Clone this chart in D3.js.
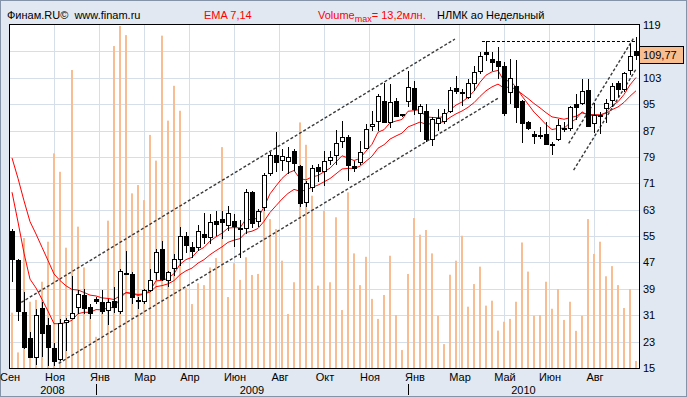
<!DOCTYPE html>
<html>
<head>
<meta charset="utf-8">
<script src="https://cdn.jsdelivr.net/npm/d3@7"></script>
<style>
body { margin: 0; background: #e1e8f1; }
svg { display: block; font-family: "Liberation Sans", Arial, sans-serif; }
</style>
</head>
<body>
<svg id="chart" width="687" height="397"></svg>
<script>
// weekly candles, NLMK, Sep 2008 .. Sep 2010
var openP  = [56.6,47.8,31.9,24.1,18.3,33.2,28.1,21.1,17.7,28.9,30.1,33.4,37.2,33.4,35.8,35.1,32.6,35.4,32.4,43.8,
              43.5,35.6,35.3,38.7,44,51,41.7,45.3,48,55,51.6,51.6,55.6,54.6,59.6,60.2,58.3,59.5,57.5,57.5,
              68.3,59.7,63.7,74.2,79.7,78.1,77.7,80.9,76.1,65.2,69.8,75.9,74.8,78.1,79.7,83.7,84.9,76.1,77.4,81.7,
              88.3,90,95.9,89.5,96.1,91.9,96.1,99.9,92.2,93,84.4,89.2,90,93,99.9,98.6,97.1,101.3,105.2,110.7,
              108.7,108,106.5,98.6,100.6,96,89.5,86,85.6,86.1,82.9,84.3,87.8,87.9,94.9,95.2,99.3,89.2,91.7,93.7,
              96.2,101.5,99.5,105.3,111];
var highP  = [57.1,48,38,25.8,32.9,34.9,30.2,22.5,29.9,30.2,43,38.5,39,34.4,36.6,38.8,35.9,39.5,45,50.6,
              44,36.6,39,45,51,53.6,44.5,49.6,57.9,56.1,53.1,58.4,61.9,61.7,62.7,62.7,64.2,61.7,59.9,69.3,
              68.6,63.2,74.2,80.4,86.5,81.4,81.9,81.4,76.4,71.8,76.4,76.9,80.9,80.9,87.2,90,85.7,77.9,83.7,89,
              92.8,98.1,101.3,101.1,96.9,92,105.2,101.9,95,95,91,93.5,93.5,100.1,103.6,99.6,102.6,106.7,110.7,114.2,
              110.7,112.2,107.7,108.7,108.4,96.3,90,87,88.1,89.7,83.6,90.6,89.7,94.4,98.1,102.5,102.5,95.2,92.7,96.7,
              101.3,102.1,104.8,113.2,115.3];
var lowP   = [41,29.4,20.8,18,16,18.3,15.7,15.7,17.2,20.3,30,31.4,31.4,29.9,34.4,31.4,27.9,31.6,31.5,43.4,
              34.4,32.9,34.4,38,41.7,41.3,39.5,43,46,50,48.5,50.6,52.6,52.6,55,54.1,56.6,51.8,48.5,55.6,
              57.5,57.9,62.7,73.3,74.3,74.6,73.8,74.8,63.7,63.7,68.3,71.3,70.3,76.4,76.4,81.7,71.8,74.3,76.4,81.4,
              87,87,89.2,87.8,91,91,94.2,91.8,86.5,83.4,82.4,87,89,92.2,98.1,94.5,96.6,99.1,104.1,108.2,
              105.2,102.6,91.5,95.1,89.2,83.1,87.2,83,84.5,82.6,79.6,83.9,86.6,86.9,90.2,94.7,88.2,86.3,86.1,89.2,
              94,97.3,98.8,103.8,108.5];
var closeP = [48.1,32.2,21.5,18.3,31.2,25.5,21.5,17,28.5,29.6,31.6,37.5,33.2,31.8,35.2,32.4,35.1,33.6,44.3,43.6,
              36.4,35.3,38.5,41.7,50.3,42,44,47.9,54.9,52.2,50.6,56.6,54.6,59.2,58.6,59.2,62,58.1,57.2,68.3,
              58.9,62.7,73.6,79.7,77.4,79.3,79.1,77.1,65,71,75.6,74.6,77.9,78.9,83.2,84.9,76.7,75.6,80.4,87.5,
              89,97.5,89.5,95.6,91.5,91.8,100.3,93.5,94.5,84.4,90.5,90.7,92.2,99.3,99.1,98.5,101.3,104.6,109.7,110.2,
              107.9,106.5,92.2,102.8,94.2,89.2,87.8,85.3,85.3,82.9,82.8,88.7,87.9,94,94.2,99.1,88.4,91.7,91.4,95.2,
              100.5,99.5,104.5,109.6,109.77];
// volume, mln shares
var volume = [2.13,0.6,5.0,2.55,2.62,3.32,4.86,8.26,7.55,4.63,11.47,5.44,3.87,2.13,1.2,2.55,5.67,12.39,13.16,12.81,
              6.72,7.04,6.46,8.97,7.98,12.79,9.52,10.86,9.9,3.07,2.46,3.26,3.19,3.87,4.23,8.5,2.73,4.03,3.39,4.26,
              3.58,3.62,6.12,5.73,5.35,4.13,2.08,3.3,9.45,8.59,6.63,3.17,6.05,3.3,5.8,2.23,6.76,4.41,3.19,4.28,
              2.66,1.89,2.81,4.32,2.04,0.69,3.62,5.77,5.13,5.31,4.41,2.01,0.92,3.59,4.13,5.09,2.36,3.23,3.9,2.4,
              2.59,1.44,1.78,1.89,2.55,4.83,3.71,2.01,2.04,3.32,2.28,3.04,1.85,2.55,1.43,2.01,5.73,4.39,4.86,3.53,
              3.92,3.19,2.31,3.04,0.27];

// EMA starting values carried over from before the window
var ema7Start = 68.3;
var ema14Start = 78.7;

var yTicks = [15, 23, 31, 39, 47, 55, 63, 71, 79, 87, 95, 103, 111, 119];
// 111 sits under the last-price box in the original, so it is not printed
var yLabelTicks = [15, 23, 31, 39, 47, 55, 63, 71, 79, 87, 95, 103, 119];
var monthLabels = ["Сен", "Ноя", "Янв", "Мар", "Апр", "Июн", "Авг", "Окт", "Ноя", "Янв", "Мар", "Май", "Июн", "Авг"];
var yearLabels = ["2008", "2009", "2010"];
var yearBreaks = [0, 14.5, 66.5, 105];

// hand drawn trend lines: [candle index, price]
var trendLines = [
    {pts: [[1.33, 34.1], [74.33, 114.75]], w: 1.4},
    {pts: [[8.28, 16.4], [81.6, 96.9]], w: 1.4},
    {pts: [[93.28, 83.1], [104.2, 115.3]], w: 1.4},
    {pts: [[94.1, 75.0], [104.5, 105.6]], w: 1.4}
];
var resistance = {from: 78.83, to: 104.5, price: 114.3};

var lastPrice = "109,77";

var svg = d3.select("#chart");
var W = 687, H = 397;
var pLeft = 9, pRight = 639, pTop = 24, pBottom = 368;

var x = d3.scaleLinear().domain([0, 105]).range([pLeft, pRight]);
var y = d3.scaleLinear().domain([15, 119]).range([pBottom, pTop + 1]);
var yv = d3.scaleLinear().domain([0, 13.2]).range([pBottom, pTop + 1]);

function cx(i) { return Math.round(x(i + 0.5)); }

// background
svg.append("rect").attr("x", 0.5).attr("y", 0.5).attr("width", W - 1).attr("height", H - 1)
    .attr("fill", "#e1e8f1").attr("stroke", "#8593a8");

svg.append("rect").attr("x", pLeft + 0.5).attr("y", pTop + 0.5)
    .attr("width", pRight - pLeft).attr("height", pBottom - pTop)
    .attr("fill", "#ffffff");

svg.append("defs").append("clipPath").attr("id", "plotClip")
    .append("rect").attr("x", pLeft + 1).attr("y", pTop + 1)
    .attr("width", pRight - pLeft - 1).attr("height", pBottom - pTop - 1);

var plot = svg.append("g").attr("clip-path", "url(#plotClip)");

// grid
plot.append("g").selectAll("line")
    .data(yTicks.slice(1, -1))
    .enter().append("line")
    .attr("x1", pLeft).attr("x2", pRight)
    .attr("y1", function(d) { return Math.round(y(d)) + 0.5; })
    .attr("y2", function(d) { return Math.round(y(d)) + 0.5; })
    .attr("stroke", "#d6deea");

plot.append("g").selectAll("line")
    .data(d3.range(1, 14))
    .enter().append("line")
    .attr("y1", pTop).attr("y2", pBottom)
    .attr("x1", function(d) { return Math.round(x(d * 7.5)) + 0.5; })
    .attr("x2", function(d) { return Math.round(x(d * 7.5)) + 0.5; })
    .attr("stroke", "#d6deea");

// volume
plot.append("g").selectAll("rect")
    .data(volume)
    .enter().append("rect")
    .attr("x", function(d, i) { return cx(i) - 1; })
    .attr("width", 2)
    .attr("y", function(d) { return yv(d); })
    .attr("height", function(d) { return pBottom - yv(d); })
    .attr("fill", "#f9bd93");

// EMA
function ema(vals, n, start) {
    var a = 2 / (n + 1), out = [start];
    for (var i = 1; i < vals.length; i++) {
        out.push(out[i - 1] + a * (vals[i] - out[i - 1]));
    }
    return out;
}
var ema7 = ema(closeP, 7, ema7Start);
var ema14 = ema(closeP, 14, ema14Start);

var line = d3.line()
    .x(function(d, i) { return x(i + 0.5); })
    .y(function(d) { return y(d); });

[ema7, ema14].forEach(function(s) {
    plot.append("path").datum(s)
        .attr("d", line)
        .attr("fill", "none")
        .attr("stroke", "#ff0000")
        .attr("stroke-width", 1);
});

// trend lines
plot.append("g").selectAll("line")
    .data(trendLines)
    .enter().append("line")
    .attr("x1", function(d) { return x(d.pts[0][0]); })
    .attr("y1", function(d) { return y(d.pts[0][1]); })
    .attr("x2", function(d) { return x(d.pts[1][0]); })
    .attr("y2", function(d) { return y(d.pts[1][1]); })
    .attr("stroke", "#3a3a3a")
    .attr("stroke-width", function(d) { return d.w; })
    .attr("stroke-dasharray", "3,2");

plot.append("line")
    .attr("x1", x(resistance.from)).attr("x2", x(resistance.to))
    .attr("y1", Math.round(y(resistance.price)) + 0.5)
    .attr("y2", Math.round(y(resistance.price)) + 0.5)
    .attr("stroke", "#000")
    .attr("stroke-dasharray", "3,2");

// candles
var candles = plot.append("g").selectAll("g")
    .data(closeP)
    .enter().append("g");

candles.append("line")
    .attr("x1", function(d, i) { return cx(i) + 0.5; })
    .attr("x2", function(d, i) { return cx(i) + 0.5; })
    .attr("y1", function(d, i) { return Math.round(y(highP[i])); })
    .attr("y2", function(d, i) { return Math.round(y(lowP[i])); })
    .attr("stroke", "#000");

candles.append("rect")
    .attr("x", function(d, i) { return cx(i) - 1.5; })
    .attr("width", 4)
    .attr("y", function(d, i) { return Math.round(y(Math.max(openP[i], d))) + 0.5; })
    .attr("height", function(d, i) {
        return Math.max(1, Math.round(y(Math.min(openP[i], d))) - Math.round(y(Math.max(openP[i], d))));
    })
    .attr("fill", function(d, i) { return d >= openP[i] ? "#fff" : "#000"; })
    .attr("stroke", "#000");

// frame
svg.append("rect").attr("x", pLeft + 0.5).attr("y", pTop + 0.5)
    .attr("width", pRight - pLeft).attr("height", pBottom - pTop)
    .attr("fill", "none").attr("stroke", "#000");

// y axis
var yAxis = d3.axisRight(y).tickValues(yLabelTicks).tickSize(0).tickPadding(4);
var ga = svg.append("g").attr("transform", "translate(" + pRight + ",0)").call(yAxis);
ga.select(".domain").remove();
ga.selectAll("text").attr("font-size", 11).attr("font-family", "Liberation Sans, Arial, sans-serif").attr("fill", "#000");

// last price box
var ly = Math.round(y(closeP[closeP.length - 1]));
svg.append("rect").attr("x", pRight + 0.5).attr("y", ly - 8.5).attr("width", 44).attr("height", 17)
    .attr("fill", "#f9be8f").attr("stroke", "#000");
svg.append("text").attr("x", pRight + 4).attr("y", ly + 4)
    .attr("font-size", 11).text(lastPrice);

// x axis labels
svg.append("g").selectAll("text")
    .data(monthLabels)
    .enter().append("text")
    .attr("x", function(d, i) { return x(i * 7.5) + 1; })
    .attr("y", 381)
    .attr("text-anchor", "middle")
    .attr("font-size", 11)
    .text(function(d) { return d; });

svg.append("g").selectAll("text")
    .data(yearLabels)
    .enter().append("text")
    .attr("x", function(d, i) { return x((yearBreaks[i] + yearBreaks[i + 1]) / 2); })
    .attr("y", 394)
    .attr("text-anchor", "middle")
    .attr("font-size", 11)
    .text(function(d) { return d; });

svg.append("g").selectAll("line")
    .data(yearBreaks.slice(1, -1))
    .enter().append("line")
    .attr("x1", function(d) { return Math.round(x(d)) + 0.5; })
    .attr("x2", function(d) { return Math.round(x(d)) + 0.5; })
    .attr("y1", 384).attr("y2", 395)
    .attr("stroke", "#000");

// header
var hdr = svg.append("text").attr("y", 19).attr("font-size", 11).attr("xml:space", "preserve");
hdr.append("tspan").attr("x", 7).attr("fill", "#000").text("Финам.RU©  www.finam.ru");
hdr.append("tspan").attr("x", 204).attr("fill", "#ff0000").text("EMA 7,14");
hdr.append("tspan").attr("x", 318).attr("fill", "#ff0000").text("Volume");
hdr.append("tspan").attr("fill", "#ff0000").attr("dy", 3).attr("font-size", 9).text("max");
hdr.append("tspan").attr("fill", "#ff0000").attr("dy", -3).text("= 13,2млн.");
hdr.append("tspan").attr("x", 437).attr("fill", "#000").text("НЛМК ао Недельный");
</script>
</body>
</html>
